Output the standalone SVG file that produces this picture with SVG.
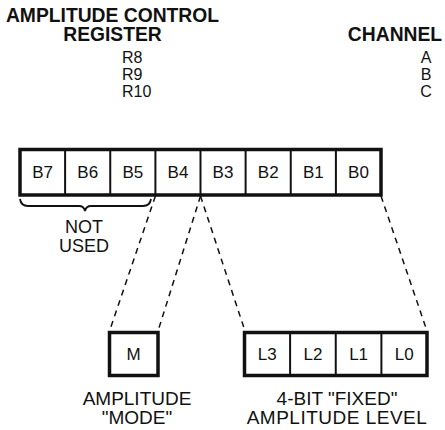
<svg xmlns="http://www.w3.org/2000/svg" width="445" height="430" viewBox="0 0 445 430">
<style>
text{font-family:"Liberation Sans",Arial,sans-serif;fill:#111}
.h{font-weight:bold;font-size:19.3px}
.t{font-size:16px}
.ch{font-size:16px;text-anchor:middle}
.c{font-size:17px;text-anchor:middle}
.lab{font-size:19px;text-anchor:middle}
.box{fill:#fff;stroke:#111;stroke-width:3.5}
.div{stroke:#111;stroke-width:2}
.dash{stroke:#111;stroke-width:1.5;stroke-dasharray:6 5;fill:none}
</style>
<rect width="445" height="430" fill="#fff"/>
<g id="header">
<text class="h" x="112.5" y="22" text-anchor="middle">AMPLITUDE CONTROL</text>
<text class="h" x="112.5" y="41" text-anchor="middle">REGISTER</text>
<text class="h" x="395" y="41" text-anchor="middle">CHANNEL</text>
<text class="t" x="122" y="63">R8</text>
<text class="t" x="122" y="80">R9</text>
<text class="t" x="122" y="97">R10</text>
<text class="ch" x="426" y="63">A</text>
<text class="ch" x="426" y="80">B</text>
<text class="ch" x="426" y="97">C</text>
</g>
<g id="register">
<rect class="box" x="20" y="149.5" width="361" height="45.5"/>
<line class="div" x1="65.1" y1="150" x2="65.1" y2="195"/>
<line class="div" x1="110.25" y1="150" x2="110.25" y2="195"/>
<line class="div" x1="155.4" y1="150" x2="155.4" y2="195"/>
<line class="div" x1="200.5" y1="150" x2="200.5" y2="195"/>
<line class="div" x1="245.6" y1="150" x2="245.6" y2="195"/>
<line class="div" x1="290.75" y1="150" x2="290.75" y2="195"/>
<line class="div" x1="335.9" y1="150" x2="335.9" y2="195"/>
<text class="c" x="42.6" y="178">B7</text>
<text class="c" x="87.7" y="178">B6</text>
<text class="c" x="132.8" y="178">B5</text>
<text class="c" x="178" y="178">B4</text>
<text class="c" x="223" y="178">B3</text>
<text class="c" x="268.2" y="178">B2</text>
<text class="c" x="313.3" y="178">B1</text>
<text class="c" x="358.5" y="178">B0</text>
</g>
<g id="not-used">
<path d="M20 199 Q21 206 28 206 L79 206 Q84 206 85 211 Q86 206 91 206 L143 206 Q150 206 151 199" fill="none" stroke="#111" stroke-width="1.8"/>
<text class="lab" x="84" y="233" style="font-size:18px">NOT</text>
<text class="lab" x="84" y="252" style="font-size:18px">USED</text>
</g>
<g id="connectors">
<line class="dash" x1="155.4" y1="196" x2="109.5" y2="331"/>
<line class="dash" x1="200.5" y1="196" x2="158" y2="331"/>
<line class="dash" x1="200.5" y1="196" x2="245" y2="331"/>
<line class="dash" x1="381" y1="196" x2="427" y2="331"/>
</g>
<g id="mode">
<rect class="box" x="109.5" y="332.5" width="48.5" height="43"/>
<text class="c" x="133.7" y="360">M</text>
<text class="lab" x="137" y="405">AMPLITUDE</text>
<text class="lab" x="137" y="424">"MODE"</text>
</g>
<g id="level">
<rect class="box" x="244.5" y="332.5" width="182.5" height="43"/>
<line class="div" x1="290.1" y1="333" x2="290.1" y2="375"/>
<line class="div" x1="335.75" y1="333" x2="335.75" y2="375"/>
<line class="div" x1="381.4" y1="333" x2="381.4" y2="375"/>
<text class="c" x="267.3" y="360">L3</text>
<text class="c" x="312.9" y="360">L2</text>
<text class="c" x="358.6" y="360">L1</text>
<text class="c" x="404.2" y="360">L0</text>
<text class="lab" x="337" y="405">4-BIT "FIXED"</text>
<text class="lab" x="337" y="424" style="letter-spacing:0.5px">AMPLITUDE LEVEL</text>
</g>
</svg>
